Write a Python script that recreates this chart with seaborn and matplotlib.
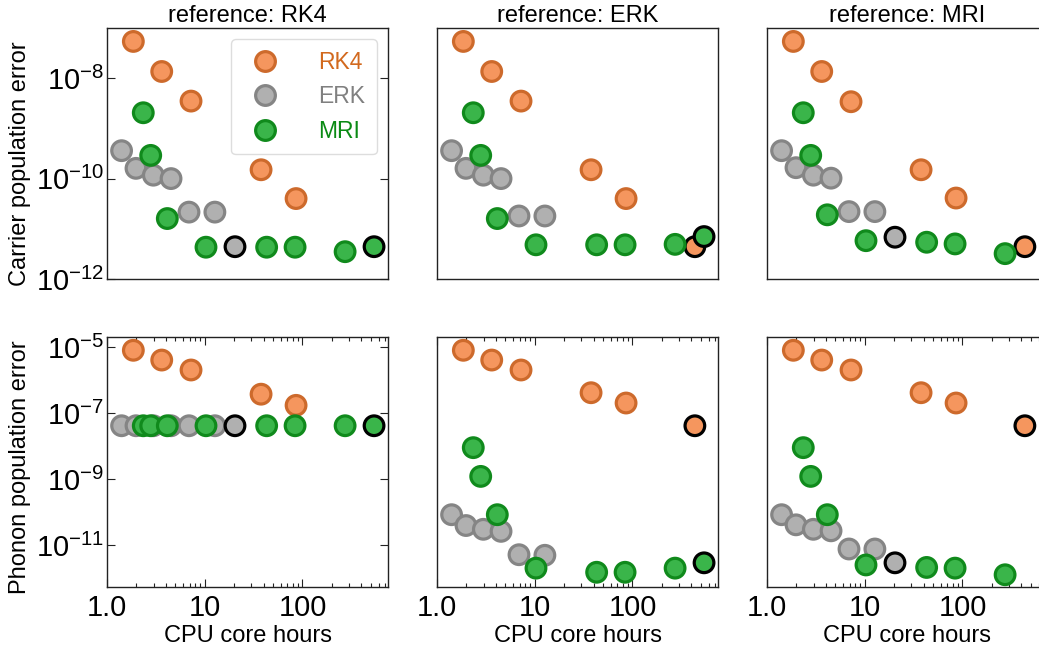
import numpy as np
import pandas as pd
import matplotlib
matplotlib.use("Agg")
import matplotlib.pyplot as plt
from matplotlib.lines import Line2D
from matplotlib.ticker import FixedLocator, LogFormatterSciNotation, NullLocator, LogLocator, NullFormatter
import seaborn as sns

# ---------------- data ----------------
methods = ["RK4", "ERK", "MRI"]
references = ["RK4", "ERK", "MRI"]

rk4_hours = [1.86, 3.63, 7.24, 37.7, 86, 435]
erk_hours = [1.41, 1.98, 2.98, 4.52, 6.9, 12.7, 20.4]
mri_hours = [2.35, 2.8, 4.14, 10.3, 43, 84, 273, 540]

nan = np.nan
# carrier population error (top row), one list per reference
carrier_rk4 = {
    "RK4": [5.4e-8, 1.36e-8, 3.5e-9, 1.5e-10, 4.0e-11, nan],
    "ERK": [5.4e-8, 1.36e-8, 3.5e-9, 1.5e-10, 4.0e-11, 4.4e-12],
    "MRI": [5.4e-8, 1.36e-8, 3.4e-9, 1.5e-10, 4.1e-11, 4.4e-12],
}
carrier_erk = {
    "RK4": [3.6e-10, 1.6e-10, 1.17e-10, 1.0e-10, 2.15e-11, 2.15e-11, 4.4e-12],
    "ERK": [3.6e-10, 1.6e-10, 1.17e-10, 1.0e-10, 1.8e-11, 1.8e-11, nan],
    "MRI": [3.6e-10, 1.65e-10, 1.17e-10, 1.02e-10, 2.2e-11, 2.2e-11, 6.8e-12],
}
carrier_mri = {
    "RK4": [2.05e-9, 2.9e-10, 1.6e-11, 4.3e-12, 4.3e-12, 4.3e-12, 3.5e-12, 4.4e-12],
    "ERK": [2.05e-9, 2.9e-10, 1.6e-11, 4.8e-12, 4.8e-12, 4.8e-12, 4.9e-12, 7.0e-12],
    "MRI": [2.05e-9, 2.9e-10, 1.9e-11, 5.8e-12, 5.4e-12, 5.0e-12, 3.2e-12, nan],
}
# phonon population error (bottom row)
phonon_rk4 = {
    "RK4": [7.9e-6, 4.0e-6, 2.0e-6, 3.7e-7, 1.7e-7, nan],
    "ERK": [7.9e-6, 4.0e-6, 2.0e-6, 4.1e-7, 2.0e-7, 4.1e-8],
    "MRI": [7.9e-6, 4.0e-6, 2.0e-6, 4.1e-7, 2.0e-7, 4.1e-8],
}
phonon_erk = {
    "RK4": [4.1e-8, 4.1e-8, 4.1e-8, 4.1e-8, 4.1e-8, 4.1e-8, 4.1e-8],
    "ERK": [8.3e-11, 3.9e-11, 3.0e-11, 2.6e-11, 5.1e-12, 4.9e-12, nan],
    "MRI": [8.3e-11, 4.1e-11, 3.0e-11, 2.7e-11, 7.6e-12, 7.6e-12, 2.9e-12],
}
phonon_mri = {
    "RK4": [4.1e-8, 4.1e-8, 4.1e-8, 4.1e-8, 4.1e-8, 4.1e-8, 4.1e-8, 4.1e-8],
    "ERK": [8.9e-9, 1.2e-9, 8.3e-11, 2.0e-12, 1.5e-12, 1.5e-12, 2.0e-12, 2.9e-12],
    "MRI": [8.9e-9, 1.2e-9, 8.3e-11, 2.5e-12, 2.1e-12, 2.0e-12, 1.26e-12, nan],
}
# index of the most accurate run (black edge) of each method
best_index = {"RK4": 5, "ERK": 6, "MRI": 7}

x_ticks = [1, 10, 100]
x_tick_labels = ["1.0", "10", "100"]
row_labels = ["Carrier population error", "Phonon population error"]

# ---------------- style ----------------
sns.set_theme(style="white")
plt.rcParams["font.family"] = ["Liberation Sans", "DejaVu Sans"]
plt.rcParams["mathtext.fontset"] = "custom"
plt.rcParams["mathtext.rm"] = "Liberation Sans"
plt.rcParams["mathtext.it"] = "Liberation Sans:italic"
plt.rcParams["mathtext.bf"] = "Liberation Sans:bold"
plt.rcParams["text.color"] = "black"
plt.rcParams["axes.labelcolor"] = "black"
plt.rcParams["axes.titlecolor"] = "black"

fill = {"RK4": "#f5965e", "ERK": "#b0b0b0", "MRI": "#3ab54a"}
edge = {"RK4": "#cd6a2c", "ERK": "#858585", "MRI": "#108a1c"}
text_col = {"RK4": "#d2691e", "ERK": "#808080", "MRI": "#0a8a14"}
hours = {"RK4": rk4_hours, "ERK": erk_hours, "MRI": mri_hours}
data_rows = [
    {"RK4": carrier_rk4, "ERK": carrier_erk, "MRI": carrier_mri},
    {"RK4": phonon_rk4, "ERK": phonon_erk, "MRI": phonon_mri},
]

W, H = 1039, 646
fig = plt.figure(figsize=(W / 100, H / 100), dpi=100)

lefts = [107, 437, 767]
width = 281
row_tops = [28, 337]
row_bottoms = [279, 587]
ylabel_y = [0.46, 0.48]

S = 200
LW = 2.3
LABEL_FS = 17

for r in range(2):
    for c, ref in enumerate(references):
        l = lefts[c] / W
        b = 1 - row_bottoms[r] / H
        h = (row_bottoms[r] - row_tops[r]) / H
        ax = fig.add_axes([l, b, width / W, h])
        for m in methods:
            ys = data_rows[r][m][ref]
            xs = hours[m]
            xx, yy, ec = [], [], []
            for i, (xv, yv) in enumerate(zip(xs, ys)):
                if np.isnan(yv):
                    continue
                xx.append(xv)
                yy.append(yv)
                ec.append("black" if i == best_index[m] else edge[m])
            df = pd.DataFrame({"hours": xx, "err": yy})
            sns.scatterplot(data=df, x="hours", y="err", ax=ax, s=S,
                            color=fill[m], edgecolor=ec, linewidth=LW,
                            legend=False, zorder=3)
        ax.set_xscale("log")
        ax.set_yscale("log")
        ax.set_xlim(1, 750)
        if r == 0:
            ax.set_ylim(1e-12, 1e-7)
            yt = [1e-12, 1e-10, 1e-8]
        else:
            ax.set_ylim(10 ** -12.27, 10 ** -4.7)
            yt = [1e-11, 1e-9, 1e-7, 1e-5]
        for sp in ax.spines.values():
            sp.set_color("#222222")
            sp.set_linewidth(1.0)
        ax.set_xlabel("")
        ax.set_ylabel("")
        # y ticks
        if c == 0:
            ax.yaxis.set_major_locator(FixedLocator(yt))
            ax.yaxis.set_major_formatter(LogFormatterSciNotation())
            ax.yaxis.set_minor_locator(NullLocator())
            ax.tick_params(axis="y", which="major", direction="in", length=6,
                           width=0.8, left=True, right=True, labelsize=21,
                           colors="#222222", labelcolor="black", pad=2)
            ax.set_ylabel(row_labels[r], fontsize=LABEL_FS, color="black")
            ax.yaxis.set_label_coords(-0.272, ylabel_y[r])
        else:
            ax.yaxis.set_major_locator(NullLocator())
            ax.yaxis.set_minor_locator(NullLocator())
        # x ticks
        if r == 1:
            ax.xaxis.set_major_locator(FixedLocator(x_ticks))
            ax.set_xticklabels(x_tick_labels)
            ax.xaxis.set_minor_locator(LogLocator(base=10, subs=np.arange(2, 10), numticks=20))
            ax.xaxis.set_minor_formatter(NullFormatter())
            ax.tick_params(axis="x", which="major", direction="in", length=6,
                           width=0.8, bottom=True, top=True, labelsize=21,
                           colors="#222222", labelcolor="black", pad=5)
            ax.tick_params(axis="x", which="minor", direction="in", length=3,
                           width=0.8, bottom=True, top=True, colors="#222222")
            ax.set_xlabel("CPU core hours", fontsize=LABEL_FS, labelpad=2, color="black")
        else:
            ax.xaxis.set_major_locator(NullLocator())
            ax.xaxis.set_minor_locator(NullLocator())
            ax.set_title(f"reference: {ref}", fontsize=LABEL_FS, pad=4, color="black")
        if r == 0 and c == 0:
            handles = [Line2D([], [], linestyle="none", marker="o", markersize=14.2,
                              markerfacecolor=fill[m], markeredgecolor=edge[m],
                              markeredgewidth=LW) for m in methods]
            leg = ax.legend(handles, methods, loc="upper right", fontsize=16.5,
                            handletextpad=1.3, labelspacing=0.5, borderpad=0.5,
                            frameon=True, fancybox=True, framealpha=1,
                            edgecolor="#dddddd")
            for t, m in zip(leg.get_texts(), methods):
                t.set_color(text_col[m])

fig.savefig("out.png", dpi=100)
